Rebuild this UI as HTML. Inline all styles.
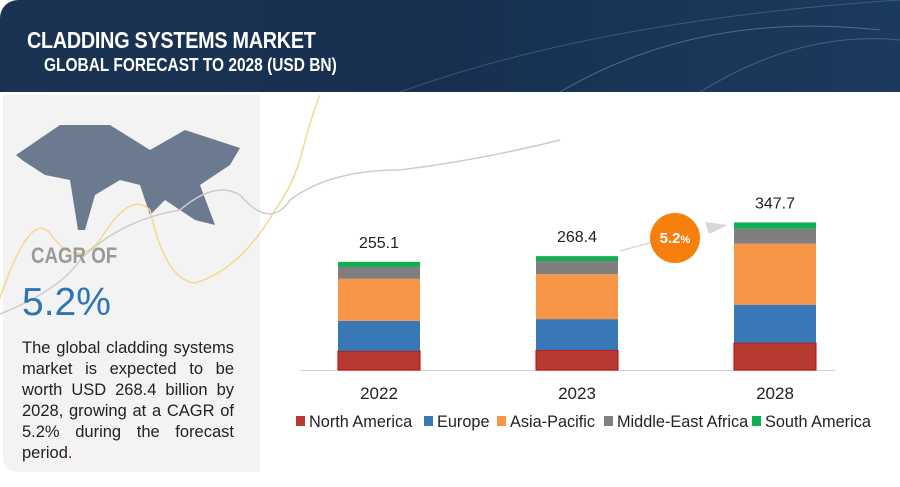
<!DOCTYPE html>
<html><head><meta charset="utf-8"><style>
body{margin:0;width:900px;height:487px;overflow:hidden;background:#fff;font-family:"Liberation Sans",sans-serif;position:relative}
.hdr{position:absolute;left:0;top:0;width:900px;height:92px;background:linear-gradient(90deg,#1b3352,#173050 50%,#1c3a5e);border-top-left-radius:18px}
.t1{position:absolute;left:27px;top:27px;color:#fff;font-weight:bold;font-size:23px;transform:scaleX(0.86);transform-origin:left;letter-spacing:-0.3px}
.t2{position:absolute;left:44px;top:55px;color:#fff;font-weight:bold;font-size:18px;transform:scaleX(0.86);transform-origin:left}
.panel{position:absolute;left:3px;top:95px;width:257px;height:377px;background:#f3f3f3;border-bottom-left-radius:14px}
.desc{position:absolute;left:22px;top:338px;width:212px;font-size:16.5px;line-height:21px;color:#222;text-align:justify;text-align-last:left}
</style></head><body>
<div class="hdr">
<svg width="900" height="92" style="position:absolute;left:0;top:0">
<path d="M400 92 Q600 20 900 0" stroke="#5a7da0" stroke-width="1" fill="none" opacity=".5"/>
<path d="M560 92 Q700 10 880 30" stroke="#7fa0c0" stroke-width="1" fill="none" opacity=".5"/>
<path d="M700 92 Q800 30 900 40" stroke="#7fa0c0" stroke-width="1" fill="none" opacity=".4"/>
</svg>
<div class="t1">CLADDING SYSTEMS MARKET</div>
<div class="t2">GLOBAL FORECAST TO 2028 (USD BN)</div>
</div>
<div class="panel"></div>
<svg width="900" height="487" style="position:absolute;left:0;top:0">
<path d="M16 155 L60 125 L110 125 L150 150 L185 130 L240 148 L230 165 L200 185 L215 225 L195 220 L165 200 L150 215 L140 185 L120 180 L95 195 L85 230 L78 230 L70 180 L45 175 L22 160 Z" fill="#6b7a8f"/>
<path d="M0 298 Q30 210 50 233 Q75 270 100 240 Q130 190 150 210 Q165 280 195 283 Q240 270 275 210 Q290 190 300 160 Q310 120 320 95" stroke="#f5d98a" stroke-width="1.5" fill="none"/>
<path d="M0 314 Q60 290 80 260 Q120 220 180 210 Q215 180 240 195 Q270 230 290 200 Q330 170 400 170 Q480 160 560 140" stroke="#cccccc" stroke-width="1.5" fill="none"/>
</svg>
<div style="position:absolute;left:31px;top:243px;font-size:22px;font-weight:bold;color:#9a9a9a;transform:scaleX(.85);transform-origin:left">CAGR OF</div>
<div style="position:absolute;left:22px;top:281px;font-size:39px;color:#2e75b6">5.2%</div>
<div class="desc">The global cladding systems market is expected to be worth USD 268.4 billion by 2028, growing at a CAGR of 5.2% during the forecast period<span style="color:#c00">.</span></div>
<svg id="chart" width="900" height="487" style="position:absolute;left:0;top:0"></svg>
<script>
const years=["2022","2023","2028"];
const totals=["255.1","268.4","347.7"];
const northAmerica=[45,47,64];
const europe=[71,73,90];
const asiaPacific=[99,106,144];
const middleEastAfrica=[28,31,35];
const southAmerica=[12,11.5,15];
const seriesNames=["North America","Europe","Asia-Pacific","Middle-East Africa","South America"];
const colors=["#b83b32","#3878b6","#f79646","#7f7f7f","#10b050"];
const NS="http://www.w3.org/2000/svg";
const svg=document.getElementById('chart');
const base=370,scale=0.424;
const y=v=>base-v*scale;
const xl=i=>338+i*198,bw=82;
function mk(t,a){const e=document.createElementNS(NS,t);for(const k in a)e.setAttribute(k,a[k]);svg.appendChild(e);return e;}
const ax=mk('line',{x1:300,y1:370.5,x2:835,y2:370.5,stroke:'#d0d0d0','stroke-width':1});


const series=[northAmerica,europe,asiaPacific,middleEastAfrica,southAmerica];
years.forEach((yr,i)=>{
 let acc=0;
 series.forEach((s,j)=>{
  const r=mk('rect',{x:xl(i),y:y(acc+s[i]),width:bw,height:s[i]*scale,fill:colors[j]});
  if(j===0){r.setAttribute('stroke','#c00000');r.setAttribute('stroke-width','1');}
  
  
  acc+=s[i];
 });
 const tl=mk('text',{x:xl(i)+bw/2,y:y(acc)-14,'text-anchor':'middle','font-size':16,fill:'#222','font-family':'Liberation Sans'});
 tl.textContent=totals[i];
 
 
 const xt=mk('text',{x:xl(i)+bw/2,y:399,'text-anchor':'middle','font-size':17,fill:'#222','font-family':'Liberation Sans'});
 xt.textContent=yr;
 
 
});
const ar=mk('line',{x1:620,y1:251,x2:700,y2:229,stroke:'#d8d8d8','stroke-width':1.5});


const ah=mk('polygon',{points:'728,225 705,222 709,234',fill:'#d8d8d8'});


const c=mk('circle',{cx:675,cy:238,r:25,fill:'#f77f0d'});


const ct=mk('text',{x:675,y:243,'text-anchor':'middle','font-size':15,'font-weight':'bold',fill:'#fff','font-family':'Liberation Sans'});
ct.innerHTML='5.2<tspan font-size="11">%</tspan>';


const lx=[296,424,497,604,752];
seriesNames.forEach((n,j)=>{
 const g=document.createElementNS(NS,'g');svg.appendChild(g);
 
 
 const r=document.createElementNS(NS,'rect');
 r.setAttribute('x',lx[j]);r.setAttribute('y',416);r.setAttribute('width',9);r.setAttribute('height',10);r.setAttribute('fill',colors[j]);g.appendChild(r);
 const t=document.createElementNS(NS,'text');
 t.setAttribute('x',lx[j]+13);t.setAttribute('y',427);t.setAttribute('font-size',16.3);t.setAttribute('fill','#222');t.setAttribute('font-family','Liberation Sans');
 t.textContent=n;g.appendChild(t);
});
</script>
</body></html>
